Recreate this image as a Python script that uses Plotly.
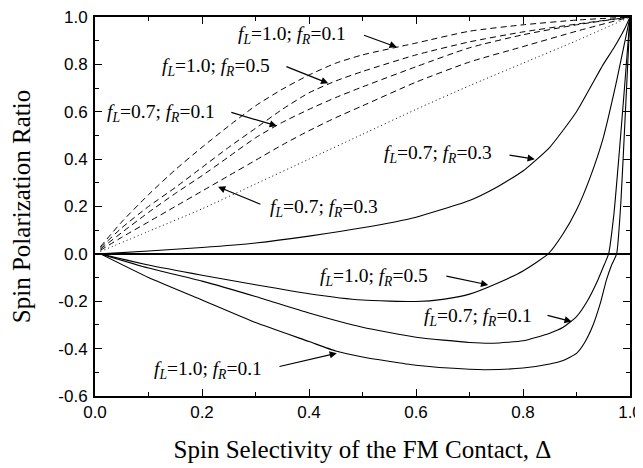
import plotly.graph_objects as go

# ---- data ----
# dashed: fL=1.0, fR=0.1
dA_x = [0.01, 0.05, 0.1, 0.15, 0.2, 0.25, 0.3, 0.35, 0.4, 0.45, 0.5, 0.6, 0.7, 0.8, 0.9, 1.0]
dA_y = [0.03, 0.135, 0.25, 0.355, 0.45, 0.54, 0.625, 0.695, 0.755, 0.805, 0.84, 0.89, 0.94, 0.967, 0.987, 1.0]
# dashed: fL=1.0, fR=0.5
dB_x = [0.01, 0.05, 0.1, 0.15, 0.2, 0.25, 0.3, 0.35, 0.4, 0.45, 0.5, 0.6, 0.7, 0.8, 0.9, 1.0]
dB_y = [0.025, 0.11, 0.2, 0.28, 0.365, 0.45, 0.53, 0.61, 0.68, 0.73, 0.77, 0.84, 0.895, 0.937, 0.97, 1.0]
# dashed: fL=0.7, fR=0.1
dC_x = [0.01, 0.05, 0.1, 0.15, 0.2, 0.25, 0.3, 0.35, 0.4, 0.45, 0.5, 0.6, 0.7, 0.8, 0.9, 1.0]
dC_y = [0.02, 0.09, 0.175, 0.255, 0.33, 0.41, 0.49, 0.555, 0.61, 0.66, 0.705, 0.79, 0.87, 0.925, 0.967, 1.0]
# dashed: fL=0.7, fR=0.3
dD_x = [0.01, 0.05, 0.1, 0.15, 0.2, 0.25, 0.3, 0.35, 0.4, 0.45, 0.5, 0.6, 0.7, 0.8, 0.9, 1.0]
dD_y = [0.015, 0.07, 0.135, 0.2, 0.265, 0.33, 0.395, 0.46, 0.52, 0.575, 0.625, 0.725, 0.81, 0.875, 0.94, 1.0]
# dotted
dot_x = [0.01, 0.1, 0.2, 0.3, 0.4, 0.5, 0.6, 0.7, 0.8, 0.9, 1.0]
dot_y = [0.01, 0.095, 0.19, 0.295, 0.4, 0.505, 0.61, 0.71, 0.805, 0.9, 1.0]
# solid: fL=0.7, fR=0.3 (positive)
sP_x = [0.01, 0.1, 0.2, 0.3, 0.4, 0.5, 0.6, 0.7, 0.75, 0.8, 0.85, 0.9, 0.95, 0.97, 0.99, 1.0]
sP_y = [0.0, 0.012, 0.027, 0.046, 0.075, 0.11, 0.155, 0.225, 0.28, 0.35, 0.45, 0.6, 0.8, 0.87, 0.95, 1.0]
# solid: fL=1.0, fR=0.5
sB_x = [0.01, 0.1, 0.2, 0.3, 0.4, 0.5, 0.6, 0.65, 0.7, 0.75, 0.8, 0.847, 0.875, 0.9, 0.925, 0.95, 0.975, 1.0]
sB_y = [0.0, -0.047, -0.09, -0.13, -0.168, -0.195, -0.201, -0.192, -0.17, -0.126, -0.072, 0.0, 0.085, 0.185, 0.32, 0.49, 0.73, 1.0]
# solid: fL=0.7, fR=0.1
sC_x = [0.01, 0.1, 0.2, 0.3, 0.4, 0.5, 0.6, 0.7, 0.745, 0.8, 0.85, 0.875, 0.9, 0.92, 0.94, 0.952, 0.96, 0.97, 0.98, 0.99, 1.0]
sC_y = [0.0, -0.06, -0.115, -0.18, -0.25, -0.31, -0.352, -0.374, -0.377, -0.367, -0.335, -0.31, -0.265, -0.2, -0.11, -0.045, 0.0, 0.17, 0.43, 0.71, 1.0]
# solid: fL=1.0, fR=0.1
sD_x = [0.01, 0.1, 0.2, 0.3, 0.4, 0.45, 0.5, 0.6, 0.7, 0.73, 0.8, 0.85, 0.875, 0.9, 0.915, 0.931, 0.945, 0.956, 0.966, 0.975, 0.983, 0.991, 1.0]
sD_y = [0.0, -0.1, -0.195, -0.29, -0.37, -0.41, -0.435, -0.47, -0.487, -0.489, -0.482, -0.465, -0.45, -0.42, -0.375, -0.3, -0.205, -0.11, -0.045, 0.0, 0.22, 0.58, 1.0]

x_ticks = [0.0, 0.2, 0.4, 0.6, 0.8, 1.0]
y_ticks = [-0.6, -0.4, -0.2, 0.0, 0.2, 0.4, 0.6, 0.8, 1.0]

# labels: (text, text_x, text_y, arrow_tail_x, arrow_tail_y, arrow_tip_x, arrow_tip_y)
def lab(fl, fr):
    return f"<i>f</i><sub><i>L</i></sub>={fl}; <i>f</i><sub><i>R</i></sub>={fr}"

labels = [
    (lab("1.0", "0.1"), 0.368, 0.925, 0.500, 0.925, 0.564, 0.873),
    (lab("1.0", "0.5"), 0.227, 0.790, 0.355, 0.793, 0.436, 0.720),
    (lab("0.7", "0.1"), 0.123, 0.595, 0.252, 0.599, 0.340, 0.540),
    (lab("0.7", "0.3"), 0.641, 0.420, 0.772, 0.418, 0.822, 0.400),
    (lab("0.7", "0.3"), 0.428, 0.195, 0.312, 0.207, 0.230, 0.283),
    (lab("1.0", "0.5"), 0.521, -0.098, 0.654, -0.093, 0.735, -0.131),
    (lab("0.7", "0.1"), 0.716, -0.267, 0.843, -0.258, 0.891, -0.286),
    (lab("1.0", "0.1"), 0.212, -0.490, 0.342, -0.477, 0.452, -0.419),
]

fig = go.Figure()
dash_style = "6px,4px"
for xs, ys in [(dA_x, dA_y), (dB_x, dB_y), (dC_x, dC_y), (dD_x, dD_y)]:
    fig.add_trace(go.Scatter(x=xs, y=ys, mode="lines",
                             line=dict(color="black", width=1, dash=dash_style, shape="spline", smoothing=0.6)))
fig.add_trace(go.Scatter(x=dot_x, y=dot_y, mode="lines",
                         line=dict(color="black", width=1, dash="1px,3px", shape="spline", smoothing=0.6)))
for xs, ys in [(sP_x, sP_y), (sB_x, sB_y), (sC_x, sC_y), (sD_x, sD_y)]:
    fig.add_trace(go.Scatter(x=xs, y=ys, mode="lines",
                             line=dict(color="black", width=1.1, shape="spline", smoothing=0.5)))

anns = []
for (t, tx, ty, ax, ay, hx, hy) in labels:
    anns.append(dict(x=tx, y=ty, xref="x", yref="y", text=t, showarrow=False,
                     font=dict(family="Liberation Serif", size=19.5, color="black")))
    anns.append(dict(x=hx, y=hy, xref="x", yref="y", ax=ax, ay=ay, axref="x", ayref="y",
                     text="", showarrow=True, arrowhead=2, arrowsize=1.2, arrowwidth=1.2,
                     arrowcolor="black"))

axis_common = dict(showline=True, linecolor="black", linewidth=2, mirror="allticks",
                   ticks="inside", ticklen=7, tickwidth=1.2, tickcolor="black",
                   showgrid=False, automargin=False, ticklabeloverflow="allow",
                   tickfont=dict(family="Liberation Sans", size=17, color="black"),
                   minor=dict(ticks="inside", ticklen=4, tickwidth=1.2, tickcolor="black", showgrid=False))

fig.update_layout(
    width=635, height=460,
    margin=dict(l=87, r=13, t=9, b=72),
    paper_bgcolor="white", plot_bgcolor="white",
    showlegend=False,
    annotations=anns,
    xaxis=dict(range=[0, 1], tickvals=x_ticks, ticktext=[f"{v:.1f}" for v in x_ticks],
               title=dict(text="Spin Selectivity of the FM Contact, Δ",
                          font=dict(family="Liberation Serif", size=25, color="black"), standoff=19),
               **{**axis_common, "minor": dict(axis_common["minor"], tickvals=[0.1, 0.3, 0.5, 0.7, 0.9])}),
    yaxis=dict(range=[-0.6, 1.0], tickvals=y_ticks, ticktext=[f"{v:.1f}" for v in y_ticks],
               zeroline=True, zerolinecolor="black", zerolinewidth=2.2,
               ticklabelstandoff=2,
               title=dict(text="Spin Polarization Ratio",
                          font=dict(family="Liberation Serif", size=25, color="black"), standoff=21),
               **{**axis_common, "minor": dict(axis_common["minor"], tickvals=[-0.5, -0.3, -0.1, 0.1, 0.3, 0.5, 0.7, 0.9])}),
)

fig.write_html("out.html")
